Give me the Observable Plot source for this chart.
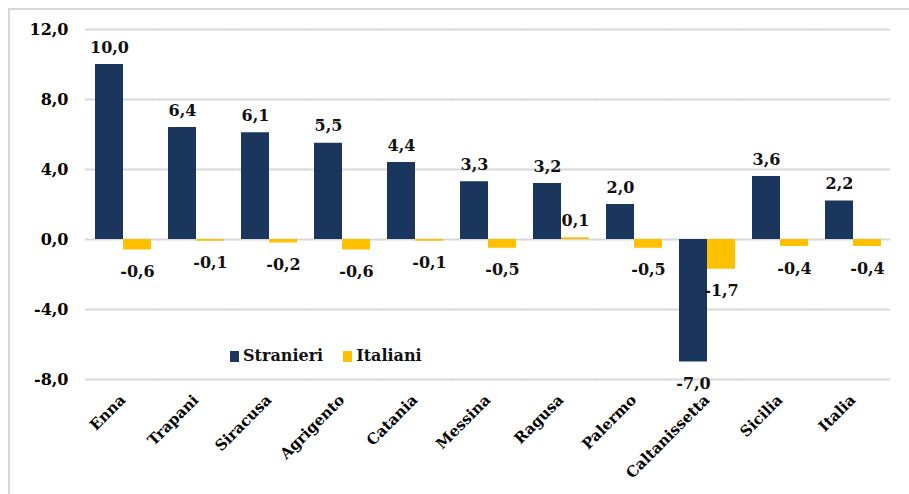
<!DOCTYPE html>
<html>
<head>
<meta charset="utf-8">
<script src="https://cdn.jsdelivr.net/npm/d3@7"></script>
<script src="https://cdn.jsdelivr.net/npm/@observablehq/plot@0.6"></script>
<style>
  html, body { margin: 0; padding: 0; background: #fff; }
  #wrap { position: relative; width: 909px; height: 494px; overflow: hidden; font-family: "DejaVu Serif", serif; }
  #frame { position: absolute; left: 8px; top: 8px; width: 920px; height: 500px; border-top: 2px solid #d9d9d9; border-left: 2px solid #d9d9d9; box-sizing: border-box; }
  #chart { position: absolute; left: 0; top: 0; }
  #legend { position: absolute; left: 230px; top: 345px; display: flex; align-items: center; font-weight: bold; font-size: 16px; line-height: 22px; color: #111; }
  #legend .sw { display: inline-block; width: 9px; height: 11px; margin-right: 4px; }
</style>
</head>
<body>
<div id="wrap">
  <div id="frame"></div>
  <div id="chart"></div>
  <div id="legend"></div>
</div>
<script>
const categories = ["Enna", "Trapani", "Siracusa", "Agrigento", "Catania", "Messina", "Ragusa", "Palermo", "Caltanissetta", "Sicilia", "Italia"];
const series = ["Stranieri", "Italiani"];
const stranieri = [10.0, 6.4, 6.1, 5.5, 4.4, 3.3, 3.2, 2.0, -7.0, 3.6, 2.2];
const italiani = [-0.6, -0.1, -0.2, -0.6, -0.1, -0.5, 0.1, -0.5, -1.7, -0.4, -0.4];
const yTicks = [-8, -4, 0, 4, 8, 12];
const colors = ["#1a365d", "#ffc000"];

const fmt = d => d.toFixed(1).replace(".", ",");

const data = [];
categories.forEach((c, i) => {
  data.push({cat: c, series: "Stranieri", value: stranieri[i]});
  data.push({cat: c, series: "Italiani", value: italiani[i]});
});

const chart = Plot.plot({
  width: 909,
  height: 494,
  marginLeft: 85,
  marginRight: 19,
  marginTop: 29,
  marginBottom: 115,
  style: {fontFamily: "DejaVu Serif, serif", background: "transparent"},
  y: {domain: [-8, 12], ticks: yTicks, tickFormat: fmt, label: null},
  fx: {domain: categories, paddingInner: 0.22, paddingOuter: 0.11, label: null},
  x: {domain: series, padding: 0, axis: null},
  color: {domain: series, range: colors},
  marks: [
    Plot.gridY(yTicks, {stroke: "#d9d9d9", strokeOpacity: 1, strokeWidth: 2, insetLeft: -9, insetRight: -9}),
    Plot.barY(data, {fx: "cat", x: "series", y: "value", fill: "series"}),
    Plot.text(data, {filter: d => d.value >= 0, fx: "cat", x: "series", y: "value", text: d => fmt(d.value), dy: -17, fontSize: 16, fontWeight: "bold", fill: "#111"}),
    Plot.text(data, {filter: d => d.value < 0, fx: "cat", x: "series", y: "value", text: d => fmt(d.value), dy: 22, fontSize: 16, fontWeight: "bold", fill: "#111"}),
    Plot.axisY({ticks: yTicks, tickFormat: fmt, tickSize: 0, tickPadding: 18, fontSize: 16, fontWeight: "bold", label: null, dx: -8}),
    Plot.axisFx({anchor: "bottom", tickRotate: -45, tickSize: 0, tickPadding: 18, fontSize: 15, fontWeight: "bold", label: null})
  ]
});
document.getElementById("chart").appendChild(chart);

const legend = document.getElementById("legend");
series.forEach((s, i) => {
  const item = document.createElement("span");
  item.style.display = "inline-flex";
  item.style.alignItems = "center";
  item.style.marginRight = i === 0 ? "20px" : "0";
  item.innerHTML = `<span class="sw" style="background:${colors[i]}"></span>${s}`;
  legend.appendChild(item);
});
</script>
</body>
</html>
